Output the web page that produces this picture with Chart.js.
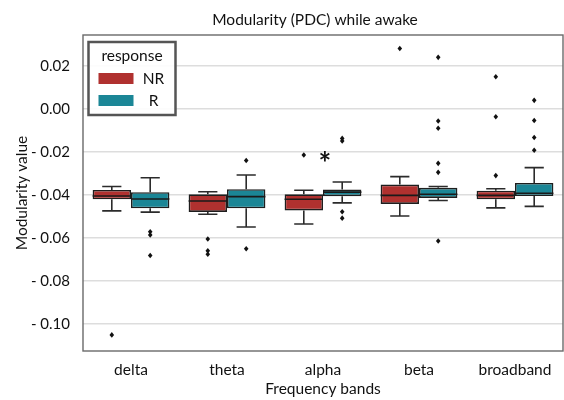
<!DOCTYPE html>
<html>
<head>
<meta charset="utf-8">
<script src="https://cdn.jsdelivr.net/npm/chart.js@4.4.1/dist/chart.umd.min.js"></script>
<style>
  html, body { margin: 0; padding: 0; background: #ffffff; }
  #wrap { width: 564px; height: 400px; position: relative; }
</style>
</head>
<body>
<div id="wrap"><canvas id="c"></canvas></div>
<script>
// ---------- data ----------
const categories = ['delta', 'theta', 'alpha', 'beta', 'broadband'];
const seriesNames = ['NR', 'R'];

const nrLow    = [-0.0474, -0.0490, -0.0535, -0.0498, -0.0460];
const nrQ1     = [-0.0420, -0.0479, -0.0472, -0.0442, -0.0420];
const nrMedian = [-0.0405, -0.0428, -0.0420, -0.0402, -0.0402];
const nrQ3     = [-0.0377, -0.0397, -0.0397, -0.0352, -0.0380];
const nrHigh   = [-0.0361, -0.0385, -0.0378, -0.0315, -0.0371];
const nrOutliers = [
  [-0.1051],
  [-0.0605, -0.0660, -0.0676],
  [-0.0214],
  [0.0281],
  [0.0150, -0.0036, -0.0310]
];

const rLow    = [-0.0480, -0.0549, -0.0437, -0.0426, -0.0453];
const rQ1     = [-0.0462, -0.0462, -0.0406, -0.0414, -0.0405];
const rMedian = [-0.0419, -0.0408, -0.0387, -0.0397, -0.0392];
const rQ3     = [-0.0387, -0.0373, -0.0375, -0.0367, -0.0344];
const rHigh   = [-0.0320, -0.0307, -0.0340, -0.0361, -0.0273];
const rOutliers = [
  [-0.0571, -0.0586, -0.0682],
  [-0.0240, -0.0650],
  [-0.0137, -0.0149, -0.0478, -0.0508],
  [0.0240, -0.0056, -0.0090, -0.0253, -0.0295, -0.0614],
  [0.0040, -0.0054, -0.0133, -0.0192]
];

const yTicks = [0.02, 0.00, -0.02, -0.04, -0.06, -0.08, -0.10];
const yTickLabels = ['0.02', '0.00', '- 0.02', '- 0.04', '- 0.06', '- 0.08', '- 0.10'];

// significance marker: category index and value
const starCategory = 2;
const starValue = -0.0219;

const titleText = 'Modularity (PDC) while awake';

const colors = ['#b0312f', '#1b8696'];
const FONT = 'Lato, "Liberation Sans", sans-serif';
const FS = 15.5;

const stats = [
  { low: nrLow, q1: nrQ1, med: nrMedian, q3: nrQ3, high: nrHigh, out: nrOutliers },
  { low: rLow,  q1: rQ1,  med: rMedian,  q3: rQ3,  high: rHigh,  out: rOutliers }
];

// ---------- plugin for whiskers, medians, fliers, frame, legend, title ----------
const boxPlugin = {
  id: 'boxExtras',
  afterDatasetsDraw(chart) {
    const ctx = chart.ctx;
    const y = chart.scales.y;
    ctx.save();
    chart.data.datasets.forEach((ds, di) => {
      const meta = chart.getDatasetMeta(di);
      const s = stats[di];
      meta.data.forEach((el, i) => {
        const cx = el.x;
        const w = el.width;
        const yQ1 = y.getPixelForValue(s.q1[i]);
        const yQ3 = y.getPixelForValue(s.q3[i]);
        const yLo = y.getPixelForValue(s.low[i]);
        const yHi = y.getPixelForValue(s.high[i]);
        const yMd = y.getPixelForValue(s.med[i]);
        ctx.strokeStyle = '#2b2b2b';
        ctx.lineWidth = 1.6;
        ctx.beginPath();
        ctx.moveTo(cx, yQ3); ctx.lineTo(cx, yHi);
        ctx.moveTo(cx, yQ1); ctx.lineTo(cx, yLo);
        ctx.moveTo(cx - w / 4, yHi); ctx.lineTo(cx + w / 4, yHi);
        ctx.moveTo(cx - w / 4, yLo); ctx.lineTo(cx + w / 4, yLo);
        ctx.stroke();
        ctx.strokeStyle = '#1a1a1a';
        ctx.beginPath();
        ctx.moveTo(cx - w / 2, yMd); ctx.lineTo(cx + w / 2, yMd);
        ctx.stroke();
        ctx.fillStyle = '#111';
        s.out[i].forEach(v => {
          const py = y.getPixelForValue(v);
          ctx.beginPath();
          ctx.moveTo(cx, py - 2.8);
          ctx.lineTo(cx + 2.3, py);
          ctx.lineTo(cx, py + 2.8);
          ctx.lineTo(cx - 2.3, py);
          ctx.closePath();
          ctx.fill();
        });
      });
    });
    // star marker
    const xs = chart.scales.x;
    ctx.fillStyle = '#111';
    ctx.font = 'bold 30px ' + FONT;
    ctx.textAlign = 'center';
    ctx.textBaseline = 'middle';
    ctx.fillText('*', xs.getPixelForValue(starCategory) + 2, y.getPixelForValue(starValue) + 8);
    ctx.restore();
  },
  afterDraw(chart) {
    const ctx = chart.ctx;
    const a = chart.chartArea;
    ctx.save();
    // title
    ctx.fillStyle = '#111';
    ctx.font = FS + 'px ' + FONT;
    ctx.textAlign = 'center';
    ctx.textBaseline = 'middle';
    ctx.fillText(titleText, (a.left + a.right) / 2 - 8, a.top - 15);
    // frame
    ctx.strokeStyle = '#6a6a6a';
    ctx.lineWidth = 1.4;
    ctx.strokeRect(a.left, a.top, a.right - a.left, a.bottom - a.top);
    // legend
    const lx = a.left + 5.5, ly = a.top + 7, lw = 87, lh = 73;
    ctx.fillStyle = 'rgba(255,255,255,0.9)';
    ctx.fillRect(lx, ly, lw, lh);
    ctx.strokeStyle = '#555555';
    ctx.lineWidth = 2.5;
    ctx.strokeRect(lx, ly, lw, lh);
    ctx.fillStyle = '#111';
    ctx.font = FS + 'px ' + FONT;
    ctx.textAlign = 'center';
    ctx.textBaseline = 'middle';
    ctx.fillText('response', lx + lw / 2, ly + 14);
    seriesNames.forEach((n, k) => {
      const sy = ly + 31 + k * 22;
      ctx.fillStyle = colors[k];
      ctx.fillRect(lx + 10, sy, 35, 11);
      ctx.fillStyle = '#111';
      ctx.textAlign = 'center';
      ctx.fillText(n, lx + 65, sy + 6);
    });
    ctx.restore();
  }
};

// ---------- chart ----------
new Chart(document.getElementById('c'), {
  type: 'bar',
  data: {
    labels: categories,
    datasets: seriesNames.map((n, k) => ({
      label: n,
      data: stats[k].q1.map((q, i) => [q, stats[k].q3[i]]),
      backgroundColor: colors[k],
      borderColor: '#1e1e1e',
      borderWidth: 1.6,
      borderSkipped: false,
      categoryPercentage: 0.8,
      barPercentage: 1.0
    }))
  },
  options: {
    responsive: true,
    maintainAspectRatio: false,
    animation: false,
    layout: { padding: { left: 0, right: 1, top: 35, bottom: 0 } },
    plugins: {
      legend: { display: false },
      tooltip: { enabled: false },
      title: { display: false }
    },
    scales: {
      x: {
        type: 'category',
        grid: { display: false, drawTicks: false },
        border: { display: false },
        ticks: { color: '#111', font: { family: FONT, size: FS }, padding: 9.7, maxRotation: 0 },
        title: { display: true, text: 'Frequency bands', color: '#111',
                 font: { family: FONT, size: FS }, padding: { top: 0, bottom: 1.7 } },
        afterFit(scale) { scale.height = 49; }
      },
      y: {
        min: -0.1126,
        max: 0.0344,
        grid: { color: '#dddddd', lineWidth: 1.5, drawTicks: false },
        border: { display: false },
        afterBuildTicks(scale) { scale.ticks = yTicks.map(v => ({ value: v })); },
        ticks: {
          color: '#111',
          font: { family: FONT, size: 15 },
          padding: 13,
          callback(value, index) { return yTickLabels[index]; }
        },
        title: { display: true, text: 'Modularity value', color: '#111',
                 font: { family: FONT, size: FS }, padding: { top: 12.7, bottom: 0 } },
        afterFit(scale) { scale.width = 83; }
      }
    }
  },
  plugins: [boxPlugin]
});
</script>
</body>
</html>
